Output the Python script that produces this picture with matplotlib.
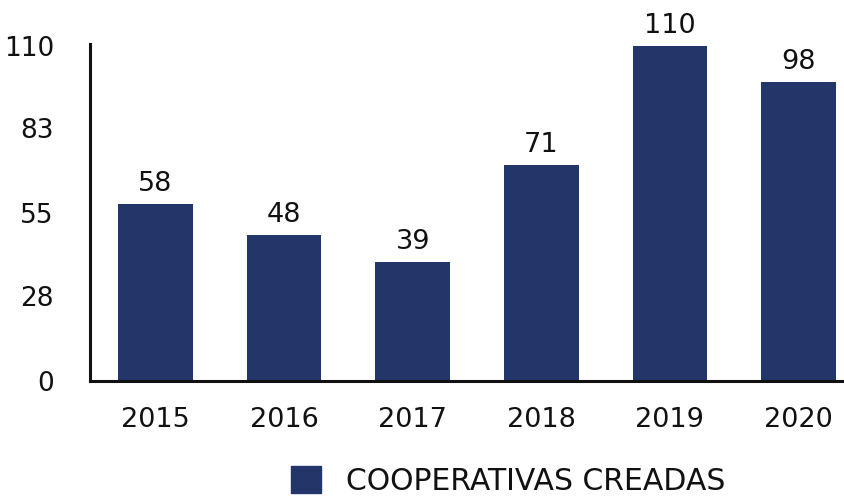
import matplotlib
matplotlib.use("Agg")
import matplotlib.pyplot as plt
from matplotlib.patches import Patch

years = ["2015", "2016", "2017", "2018", "2019", "2020"]
values = [58, 48, 39, 71, 110, 98]
yticks = [0, 28, 55, 83, 110]
series_name = "COOPERATIVAS CREADAS"
color = "#22366A"

plt.rcParams['font.family'] = ['DejaVu Sans']

fig = plt.figure(figsize=(8.45, 4.99), dpi=100)
ax = fig.add_axes([90/845, 1-381/499, 1-90/845, (381-44)/499])
x = list(range(len(years)))
ax.bar(x, values, width=0.58, color=color)
for xi, v in zip(x, values):
    ax.annotate(str(v), (xi, v), xytext=(0, 5), textcoords="offset points",
                ha="center", va="bottom", fontsize=19.5, color="#111111")
ax.set_xlim(-0.509, 5.362)
ax.set_ylim(0, 110.6)
ax.set_yticks(yticks)
ax.set_yticklabels([str(t) for t in yticks])
ax.set_xticks(x)
ax.set_xticklabels(years)
ax.tick_params(axis="both", length=0, labelsize=19.5, colors="#111111")
ax.tick_params(axis="y", pad=26, labelsize=19)
ax.tick_params(axis="x", pad=19)
for s in ["top", "right"]:
    ax.spines[s].set_visible(False)
for s in ["left", "bottom"]:
    ax.spines[s].set_linewidth(2.2)
    ax.spines[s].set_color("#111111")

fig.legend(handles=[Patch(color=color, label=series_name)], loc="center left",
           bbox_to_anchor=(291/845, 1-481/499), frameon=False, fontsize=21.5,
           handlelength=1.0, handleheight=1.0, handletextpad=0.85,
           borderpad=0, borderaxespad=0, labelcolor="#111111")
fig.savefig("out.png", dpi=100)
